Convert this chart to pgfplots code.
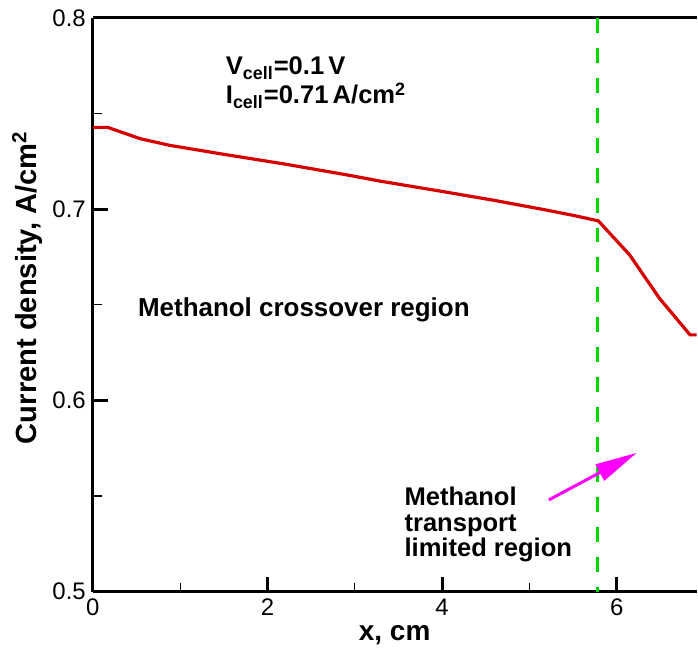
\documentclass[border=0pt]{standalone}
\usepackage{fontspec}
\setmainfont{Liberation Sans}
\usepackage{pgfplots}
\pgfplotsset{compat=1.18}
\usetikzlibrary{arrows.meta}

\definecolor{curvered}{RGB}{215,0,0}
\definecolor{dashgreen}{RGB}{0,215,0}
\definecolor{arrowmag}{RGB}{255,0,255}

\begin{document}
\begin{tikzpicture}
\begin{axis}[
  scale only axis, width=302.5pt, height=287.5pt,
  xmin=0, xmax=6.914, ymin=0.5, ymax=0.8,
  axis x line*=box, axis y line*=left,
  axis line style={line width=1.5pt, -},
  xtick={0,2,4,6}, ytick={0.5,0.6,0.7,0.8},
  minor x tick num=1, minor y tick num=1,
  xtick pos=bottom, ytick pos=left,
  tick align=inside,
  major tick length=7.5pt, minor tick length=4.5pt,
  major tick style={line width=1.5pt, black},
  minor tick style={line width=0.6pt, black},
  tick label style={font=\fontsize{12}{14}\selectfont},
  /pgf/number format/assume math mode=true,
  yticklabel style={/pgf/number format/fixed, /pgf/number format/precision=1,
    /pgf/number format/fixed zerofill},
  xlabel={x, cm}, ylabel={Current density, A/cm\textsuperscript{2}},
  xlabel style={font=\bfseries\fontsize{14}{16}\selectfont, yshift=2pt},
  ylabel style={font=\bfseries\fontsize{14.6}{16}\selectfont, yshift=-2pt},
  every axis y label/.append style={at={(ticklabel cs:0.53)}},
]
% current density along the channel
\addplot[curvered, line width=1.6pt] coordinates {
  (0,0.7428)(0.17,0.7428)(0.54,0.7369)(0.88,0.7334)(1.5,0.7287)
  (2.2,0.7236)(2.94,0.7177)(3.3,0.7146)(4.0,0.7093)(4.6,0.7046)
  (5.2,0.6995)(5.5,0.6968)(5.79,0.6939)(6.15,0.6760)(6.49,0.6534)
  (6.84,0.6343)(6.92,0.6343)};
% boundary between regions
\addplot[dashgreen, line width=1.5pt, dash pattern=on 7.5pt off 7.5pt] coordinates {(5.78,0.8)(5.78,0.5)};

\node[anchor=base west, inner sep=0, font=\bfseries\fontsize{12.8}{14}\selectfont]
  at (axis cs:1.52,0.7703) {V\textsubscript{cell}=0.1\,V};
\node[anchor=base west, inner sep=0, font=\bfseries\fontsize{12.8}{14}\selectfont]
  at (axis cs:1.52,0.7551) {I\textsubscript{cell}=0.71\,A/cm\textsuperscript{2}};
\node[anchor=west, inner sep=0, font=\bfseries\fontsize{13}{15}\selectfont]
  at (axis cs:0.514,0.6472) {Methanol crossover region};
\node[anchor=north west, inner sep=0, align=left, font=\bfseries\fontsize{12.8}{12.75}\selectfont]
  at (axis cs:3.566,0.5548) {Methanol\\transport\\limited region};
\draw[arrowmag, line width=1.5pt, -{Triangle[length=21pt,width=9pt]}]
  (axis cs:5.223,0.548) -- (axis cs:6.229,0.5726);

\coordinate (bl) at ([xshift=-46.5pt,yshift=-27.5pt]rel axis cs:0,0);
\coordinate (tr) at ([yshift=9pt]rel axis cs:1,1);
\end{axis}
\path (bl) rectangle (tr);
\end{tikzpicture}
\end{document}
